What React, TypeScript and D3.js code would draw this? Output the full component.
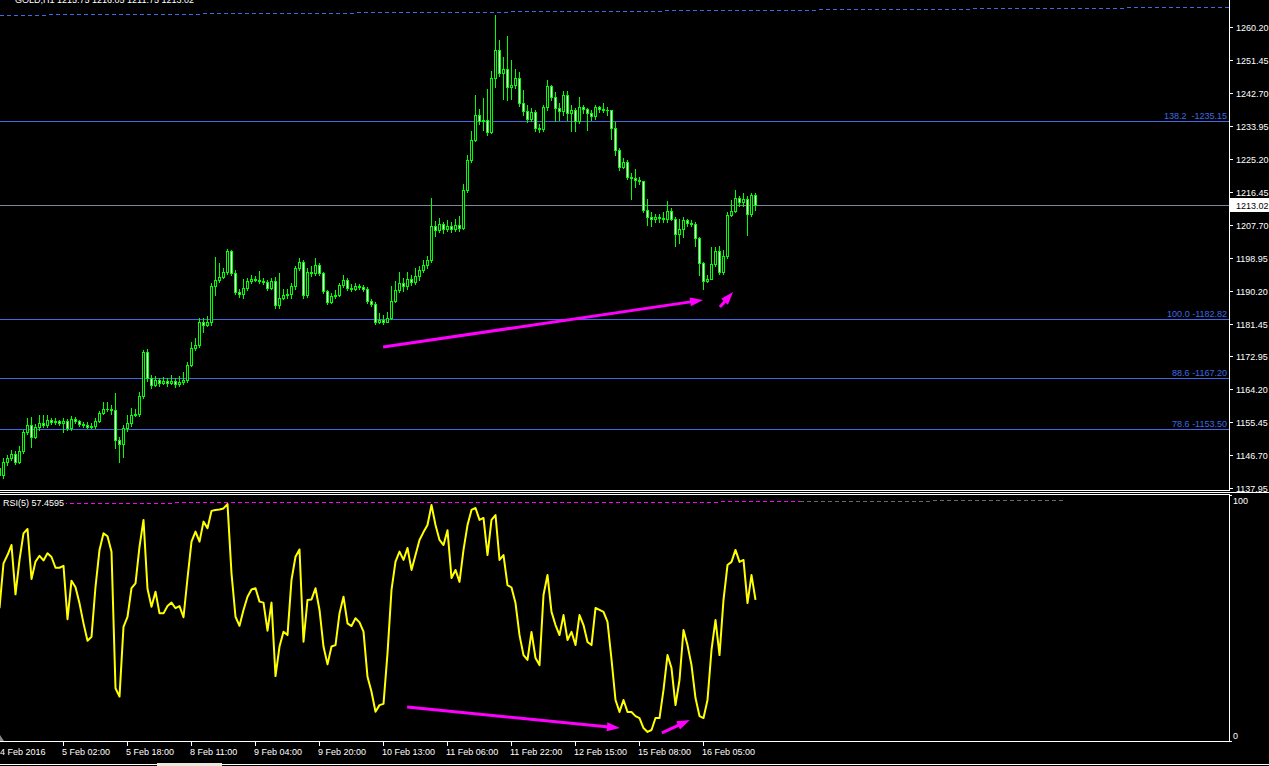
import React, { useEffect } from "react";
import * as d3 from "d3";

const HEADER = "GOLD,H1  1215.75 1216.05 1211.75 1213.02";
const FIRST_OPEN = 1143.25;
const CLOSE = [1141.40,
  1144.85,1145.91,1146.97,1144.85,1147.76,1152.80,1154.66,1151.48,1154.13,1155.19,
  1154.66,1155.98,1155.45,1155.72,1155.19,1155.72,1153.86,1156.25,1155.72,1154.92,
  1154.66,1154.13,1154.39,1155.72,1157.84,1158.90,1158.80,1158.64,1150.68,1149.62,
  1153.86,1155.19,1157.31,1157.58,1162.35,1174.02,1167.12,1165.27,1166.59,1165.80,
  1166.33,1165.80,1166.33,1165.53,1166.06,1166.59,1170.57,1175.08,1175.87,1181.97,
  1181.17,1181.97,1191.52,1193.11,1193.91,1195.23,1200.80,1194.97,1189.93,1189.40,
  1190.99,1192.85,1193.38,1193.20,1192.85,1192.58,1190.99,1192.85,1186.48,1188.33,
  1189.13,1189.30,1191.52,1196.29,1197.88,1189.13,1195.23,1194.97,1197.09,1194.97,
  1190.19,1187.27,1188.86,1189.13,1191.78,1193.11,1190.99,1190.72,1191.52,1191.25,
  1190.72,1187.54,1186.74,1181.97,1182.50,1181.97,1183.03,1187.54,1190.46,1192.31,
  1191.52,1193.38,1192.58,1194.17,1195.76,1197.09,1198.41,1207.43,1206.37,1207.96,
  1206.63,1207.43,1206.63,1207.69,1206.90,1216.98,1224.93,1230.23,1236.86,1235.27,
  1235.54,1232.36,1246.68,1254.10,1248.00,1249.06,1244.29,1244.82,1246.68,1240.05,
  1237.92,1235.80,1237.66,1233.42,1233.15,1238.99,1244.55,1241.64,1238.72,1237.92,
  1242.17,1237.39,1238.19,1235.27,1238.99,1238.46,1237.39,1236.60,1238.99,1238.46,
  1238.19,1238.30,1233.42,1227.58,1223.07,1224.40,1220.42,1220.16,1219.63,1219.36,
  1211.67,1209.82,1209.29,1209.82,1209.55,1209.29,1211.41,1209.29,1205.31,1206.63,
  1209.02,1208.23,1207.96,1204.25,1197.62,1192.85,1193.38,1197.35,1200.80,1195.23,
  1199.47,1210.35,1211.41,1214.85,1213.79,1214.59,1210.61,1215.75,1213.02];
const HIGH = [1144.05,
  1145.91,1146.70,1148.03,1147.76,1149.09,1153.33,1156.51,1156.78,1154.92,1157.31,
  1157.31,1157.31,1156.51,1156.51,1155.98,1156.51,1156.25,1157.05,1156.78,1155.98,
  1155.45,1155.45,1155.19,1156.51,1158.37,1160.76,1160.76,1159.96,1163.15,1151.48,
  1154.66,1157.31,1159.16,1158.90,1163.41,1174.55,1174.81,1167.92,1167.65,1167.12,
  1167.39,1167.12,1167.92,1167.12,1167.65,1168.71,1171.36,1176.66,1177.73,1183.03,
  1183.03,1183.56,1192.31,1199.21,1197.62,1196.29,1201.33,1201.06,1195.76,1190.72,
  1193.38,1193.64,1194.44,1194.17,1195.50,1193.64,1193.11,1193.64,1193.91,1194.97,
  1190.72,1190.72,1192.31,1196.82,1198.94,1198.41,1196.29,1196.82,1198.94,1197.62,
  1195.23,1190.46,1189.66,1190.46,1192.31,1194.44,1193.64,1192.05,1192.31,1192.05,
  1191.78,1191.25,1188.07,1187.27,1184.36,1183.83,1184.62,1191.52,1192.85,1195.23,
  1193.64,1195.23,1194.44,1196.29,1196.82,1198.41,1199.47,1214.85,1208.76,1209.55,
  1208.49,1209.02,1208.49,1209.29,1210.08,1218.57,1226.26,1232.62,1242.17,1238.46,
  1241.37,1243.76,1248.53,1263.38,1256.75,1252.24,1257.81,1251.45,1249.06,1248.27,
  1243.49,1239.52,1238.72,1238.19,1234.48,1239.52,1246.15,1244.82,1242.96,1240.05,
  1243.23,1243.23,1239.52,1238.72,1241.64,1239.52,1238.72,1238.19,1239.52,1239.25,
  1240.05,1238.99,1235.80,1235.01,1228.11,1225.46,1224.93,1221.48,1222.54,1220.42,
  1219.36,1214.59,1211.14,1210.61,1210.61,1211.14,1214.06,1212.20,1209.82,1209.29,
  1209.82,1209.29,1209.02,1208.49,1204.51,1197.88,1194.44,1201.86,1201.86,1202.12,
  1201.06,1211.14,1214.32,1216.98,1215.39,1216.18,1215.39,1216.18,1216.05];
const LOW = [1140.60,
  1140.60,1144.05,1145.38,1144.32,1144.58,1147.23,1152.27,1148.82,1151.21,1153.33,
  1154.13,1154.13,1154.92,1154.92,1154.66,1152.80,1153.33,1153.33,1155.19,1154.39,
  1154.13,1153.86,1153.86,1153.86,1155.45,1157.58,1158.37,1157.58,1148.56,1144.85,
  1146.17,1153.07,1154.39,1157.05,1157.05,1161.82,1166.33,1164.47,1165.00,1165.00,
  1165.53,1165.00,1165.53,1164.74,1165.00,1165.53,1166.06,1170.30,1174.55,1175.34,
  1179.32,1180.91,1181.17,1189.13,1192.58,1193.64,1194.70,1194.44,1189.40,1188.60,
  1188.33,1190.46,1192.31,1192.85,1192.31,1192.05,1190.46,1190.72,1185.68,1185.68,
  1188.07,1188.33,1188.33,1190.72,1195.76,1188.33,1188.60,1194.17,1194.44,1194.44,
  1189.66,1186.74,1187.01,1188.33,1188.86,1191.25,1190.46,1190.19,1190.46,1190.72,
  1190.19,1187.01,1186.21,1181.44,1181.71,1181.44,1181.97,1182.77,1187.27,1189.93,
  1190.19,1190.72,1191.78,1192.05,1193.11,1195.23,1196.29,1197.88,1204.78,1205.84,
  1205.57,1206.10,1205.84,1206.10,1206.10,1206.63,1216.45,1224.40,1229.97,1234.48,
  1232.89,1231.56,1232.09,1244.29,1247.21,1241.11,1240.84,1241.11,1244.02,1239.25,
  1236.86,1235.01,1235.27,1232.62,1232.36,1232.62,1238.19,1240.84,1235.27,1235.54,
  1236.86,1235.54,1232.62,1232.62,1234.74,1237.39,1232.89,1235.54,1235.80,1237.66,
  1237.66,1236.86,1230.50,1226.26,1222.28,1222.81,1219.89,1214.59,1217.77,1218.57,
  1211.14,1207.69,1207.43,1208.49,1208.49,1208.49,1208.49,1209.02,1202.12,1202.92,
  1204.51,1207.43,1207.43,1202.12,1194.44,1190.72,1192.58,1193.64,1196.82,1194.70,
  1194.70,1198.94,1210.08,1211.14,1212.73,1212.73,1205.04,1210.08,1211.75];
const RSI5 = [54.0,
  72.4,75.8,79.9,59.7,73.8,84.7,86.5,66.0,73.1,75.5,
  73.6,76.5,75.0,70.6,70.6,71.4,49.5,65.3,62.6,56.0,
  47.8,40.7,42.3,62.8,77.9,84.7,83.5,77.2,21.2,17.8,
  46.4,50.5,62.2,64.2,79.2,90.2,62.0,54.6,60.8,51.9,
  51.9,54.9,56.3,54.0,54.9,50.3,66.3,81.3,85.4,81.3,
  89.5,86.8,93.9,94.3,94.5,94.9,96.7,68.3,50.5,46.8,
  53.3,58.7,61.7,62.2,56.7,56.3,44.8,56.3,26.2,38.3,
  44.4,43.0,65.6,75.1,78.1,40.3,57.4,57.6,62.2,53.3,
  38.3,31.0,38.3,38.9,51.9,58.7,47.8,46.7,49.9,48.2,
  44.4,25.9,19.8,11.6,14.3,14.8,35.5,61.5,73.1,77.2,
  73.8,78.7,69.7,75.8,82.0,85.2,88.1,96.3,88.1,82.0,
  79.9,86.0,66.4,69.7,64.8,77.9,88.1,94.3,95.1,90.2,
  91.0,75.8,90.2,92.2,73.8,75.8,63.5,62.5,56.1,43.0,
  34.8,32.8,44.3,33.6,30.7,59.4,67.6,52.5,47.1,43.0,
  51.2,41.0,44.3,38.9,51.2,47.1,40.2,38.9,54.1,53.3,
  52.5,48.4,33.0,16.4,11.5,16.4,11.5,11.5,9.8,9.0,
  4.9,3.3,4.1,9.0,9.0,20.5,34.8,29.5,14.3,24.6,
  45.1,38.9,30.7,17.2,9.8,9.0,16.4,36.9,49.2,34.8,
  57.4,71.7,73.0,77.9,73.0,73.8,56.1,67.6,57.46];
const RSI_LABEL = "RSI(5) 57.4595";
const PRICE_TICKS = [1260.20,1251.45,1242.70,1233.95,1225.20,1216.45,1207.70,1198.95,1190.20,1181.45,1172.95,1164.20,1155.45,1146.70,1137.95];
const TIME_LABELS = ["4 Feb 2016","5 Feb 02:00","5 Feb 18:00","8 Feb 11:00","9 Feb 04:00","9 Feb 20:00","10 Feb 13:00","11 Feb 06:00","11 Feb 22:00","12 Feb 15:00","15 Feb 08:00","16 Feb 05:00"];
const TIME_LABEL_BARS = [0,16,32,48,64,80,96,112,128,144,160,176];
const FIB_RATIOS = ["138.2 ", "100.0", "88.6", "78.6"];
const FIB_PRICES = [1235.15, 1182.82, 1167.20, 1153.50];
const BID = 1213.02;
const PRICE_TREND = [[0, 1263.30], [307.5, 1265.42]];
const RSI_TREND = [[0, 97.0], [200, 97.6]];
const RSI_TREND_GREY = [[200, 97.9], [266, 98.0]];
const PRICE_ARROWS = [[[95.9, 1175.34], [175.9, 1187.8]], [[180.1, 1185.95], [183.4, 1189.93]]];
const RSI_ARROWS = [[[101.9, 13.5], [155.1, 4.9]], [[165.6, 2.9], [172.6, 8.2]]];

const FONT = "'Liberation Sans', Arial, sans-serif";
const AX = 1229.5;

function Arrow({ x1, y1, x2, y2 }: { x1: number; y1: number; x2: number; y2: number }) {
  const dx = x2 - x1, dy = y2 - y1, L = Math.hypot(dx, dy);
  const ux = dx / L, uy = dy / L;
  const hl = 13, hw = 4.5;
  const bx = x2 - ux * hl, by = y2 - uy * hl;
  const px = -uy, py = ux;
  return (
    <g>
      <line x1={x1} y1={y1} x2={bx + ux * 2} y2={by + uy * 2} stroke="#FF00FF" strokeWidth={3} />
      <polygon points={`${x2},${y2} ${bx + px * hw},${by + py * hw} ${bx - px * hw},${by - py * hw}`} fill="#FF00FF" />
    </g>
  );
}

// pixel-aligned dashed line (like an aliased terminal trendline)
function PixelDash({ x1, y1, x2, y2, color, xmin = 0, xmax = AX }: { x1: number; y1: number; x2: number; y2: number; color: string; xmin?: number; xmax?: number }) {
  const dash = 4, gap = 3;
  const a = Math.max(x1, xmin), b = Math.min(x2, xmax);
  const rects = [];
  for (let xs = Math.ceil(a); xs < b; xs += dash + gap) {
    const w = Math.min(dash, b - xs);
    const yy = y1 + ((y2 - y1) * (xs + w / 2 - x1)) / (x2 - x1);
    rects.push(<rect key={xs} x={xs} y={Math.floor(yy)} width={w} height={1} fill={color} />);
  }
  return <g shapeRendering="crispEdges">{rects}</g>;
}

export default function App() {
  useEffect(() => {
    document.body.style.margin = "0";
    document.body.style.background = "#000";
  }, []);
  const x = d3.scaleLinear().domain([0, 1]).range([-0.5, 3.5]);
  const y = d3.scaleLinear().domain([1137.95, 1260.20]).range([488, 27]);
  const yr = d3.scaleLinear().domain([0, 100]).range([740, 496]);
  const n = CLOSE.length;
  const opens = CLOSE.map((c, i) => (i === 0 ? FIRST_OPEN : CLOSE[i - 1]));
  const snap = (v: number) => Math.round(v) + 0.5;

  const rsiLine = d3.line<number>().x((_, i) => x(i)).y((v) => yr(v));

  return (
    <svg width={1269} height={766} style={{ position: "absolute", left: 0, top: 0, background: "#000", display: "block" }} fontFamily={FONT}>
      <rect x={0} y={0} width={1269} height={766} fill="#000" />
      <defs>
        <clipPath id="mainClip"><rect x={0} y={0} width={AX} height={490} /></clipPath>
        <clipPath id="rsiClip"><rect x={0} y={495} width={AX} height={246} /></clipPath>
      </defs>

      {/* header */}
      <text x={15} y={2.5} fill="#fff" fontSize={9}>{HEADER}</text>

      {/* main window */}
      <g clipPath="url(#mainClip)">
        <PixelDash x1={x(PRICE_TREND[0][0])} y1={y(PRICE_TREND[0][1])} x2={x(PRICE_TREND[1][0])} y2={y(PRICE_TREND[1][1])} color="#4169E1" />
        {FIB_PRICES.map((p, i) => (
          <line key={"f" + i} x1={0} x2={AX} y1={snap(y(p))} y2={snap(y(p))} stroke="#4169E1" strokeWidth={1} shapeRendering="crispEdges" />
        ))}
        <line x1={0} x2={AX} y1={snap(y(BID))} y2={snap(y(BID))} stroke="#778899" strokeWidth={1} shapeRendering="crispEdges" />
        {CLOSE.map((c, i) => {
          const o = opens[i];
          const hi = Math.max(HIGH[i], o, c), lo = Math.min(LOW[i], o, c);
          const cx = x(i);
          const top = Math.round(y(Math.max(o, c)));
          const bot = Math.round(y(Math.min(o, c)));
          const bull = c > o;
          return (
            <g key={"c" + i} shapeRendering="crispEdges">
              <line x1={cx} x2={cx} y1={Math.round(y(hi))} y2={Math.round(y(lo)) + 1} stroke="#00FF00" strokeWidth={1} />
              {bot - top >= 1 ? (
                <rect x={cx - 1} y={top + 0.5} width={2} height={bot - top} fill={bull ? "#000" : "#fff"} stroke="#00FF00" strokeWidth={1} />
              ) : (
                <line x1={cx - 1.5} x2={cx + 1.5} y1={top + 0.5} y2={top + 0.5} stroke="#00FF00" strokeWidth={1} />
              )}
            </g>
          );
        })}
        {FIB_PRICES.map((p, i) => (
          <text key={"ft" + i} x={1227} y={Math.round(y(p)) - 2} fill="#4169E1" fontSize={9} textAnchor="end" style={{ whiteSpace: "pre" }}>
            {`${FIB_RATIOS[i]} -${p.toFixed(2)}`}
          </text>
        ))}
        {PRICE_ARROWS.map((a, i) => (
          <Arrow key={"pa" + i} x1={x(a[0][0])} y1={y(a[0][1])} x2={x(a[1][0])} y2={y(a[1][1])} />
        ))}
      </g>

      {/* price axis */}
      <line x1={AX} x2={AX} y1={0} y2={490} stroke="#fff" shapeRendering="crispEdges" />
      {PRICE_TICKS.map((p) => (
        <g key={"pt" + p}>
          <line x1={AX} x2={1233} y1={snap(y(p))} y2={snap(y(p))} stroke="#fff" shapeRendering="crispEdges" />
          <text x={1236} y={Math.round(y(p)) + 4} fill="#fff" fontSize={9}>{p.toFixed(2)}</text>
        </g>
      ))}
      <rect x={1230} y={Math.round(y(BID)) - 7} width={39} height={14} fill="#fff" />
      <text x={1236} y={Math.round(y(BID)) + 4} fill="#000" fontSize={9}>{BID.toFixed(2)}</text>

      {/* separators */}
      <line x1={0} x2={AX} y1={490.5} y2={490.5} stroke="#fff" shapeRendering="crispEdges" />
      <line x1={0} x2={1269} y1={492.5} y2={492.5} stroke="#fff" shapeRendering="crispEdges" />
      <line x1={0} x2={AX} y1={494.5} y2={494.5} stroke="#fff" shapeRendering="crispEdges" />

      {/* RSI window */}
      <g clipPath="url(#rsiClip)">
        <PixelDash x1={x(RSI_TREND[0][0])} y1={yr(RSI_TREND[0][1])} x2={x(RSI_TREND[1][0])} y2={yr(RSI_TREND[1][1])} color="#FF00FF" />
        <PixelDash x1={x(RSI_TREND_GREY[0][0])} y1={yr(RSI_TREND_GREY[0][1])} x2={x(RSI_TREND_GREY[1][0])} y2={yr(RSI_TREND_GREY[1][1])} color="#6a6a6a" />
        <path d={rsiLine(RSI5.slice(0, n)) || ""} fill="none" stroke="#FFFF00" strokeWidth={2} strokeLinejoin="round" />
        {RSI_ARROWS.map((a, i) => (
          <Arrow key={"ra" + i} x1={x(a[0][0])} y1={yr(a[0][1])} x2={x(a[1][0])} y2={yr(a[1][1])} />
        ))}
        <rect x={0} y={497} width={66} height={11} fill="#000" />
        <text x={3} y={506} fill="#fff" fontSize={9}>{RSI_LABEL}</text>
        <polygon points="0,735 0,741 4,741" fill="#888" />
      </g>
      <line x1={AX} x2={AX} y1={494} y2={742} stroke="#fff" shapeRendering="crispEdges" />
      <line x1={0} x2={AX} y1={741.5} y2={741.5} stroke="#fff" shapeRendering="crispEdges" />
      <line x1={AX} x2={1232} y1={495.5} y2={495.5} stroke="#fff" shapeRendering="crispEdges" />
      <line x1={AX} x2={1232} y1={741.5} y2={741.5} stroke="#fff" shapeRendering="crispEdges" />
      <text x={1233} y={504} fill="#fff" fontSize={9}>100</text>
      <text x={1233} y={739} fill="#fff" fontSize={9}>0</text>

      {/* time axis */}
      {TIME_LABEL_BARS.map((b, i) => (
        <g key={"tl" + i}>
          <line x1={x(b)} x2={x(b)} y1={742} y2={746} stroke="#fff" shapeRendering="crispEdges" />
          <text x={Math.max(x(b) - 1.5, 0)} y={755} fill="#fff" fontSize={9}>{TIME_LABELS[i]}</text>
        </g>
      ))}
      <line x1={0} x2={1269} y1={764.5} y2={764.5} stroke="#fff" shapeRendering="crispEdges" />
      <rect x={157} y={763} width={65} height={3} fill="#ece9d8" />
    </svg>
  );
}
